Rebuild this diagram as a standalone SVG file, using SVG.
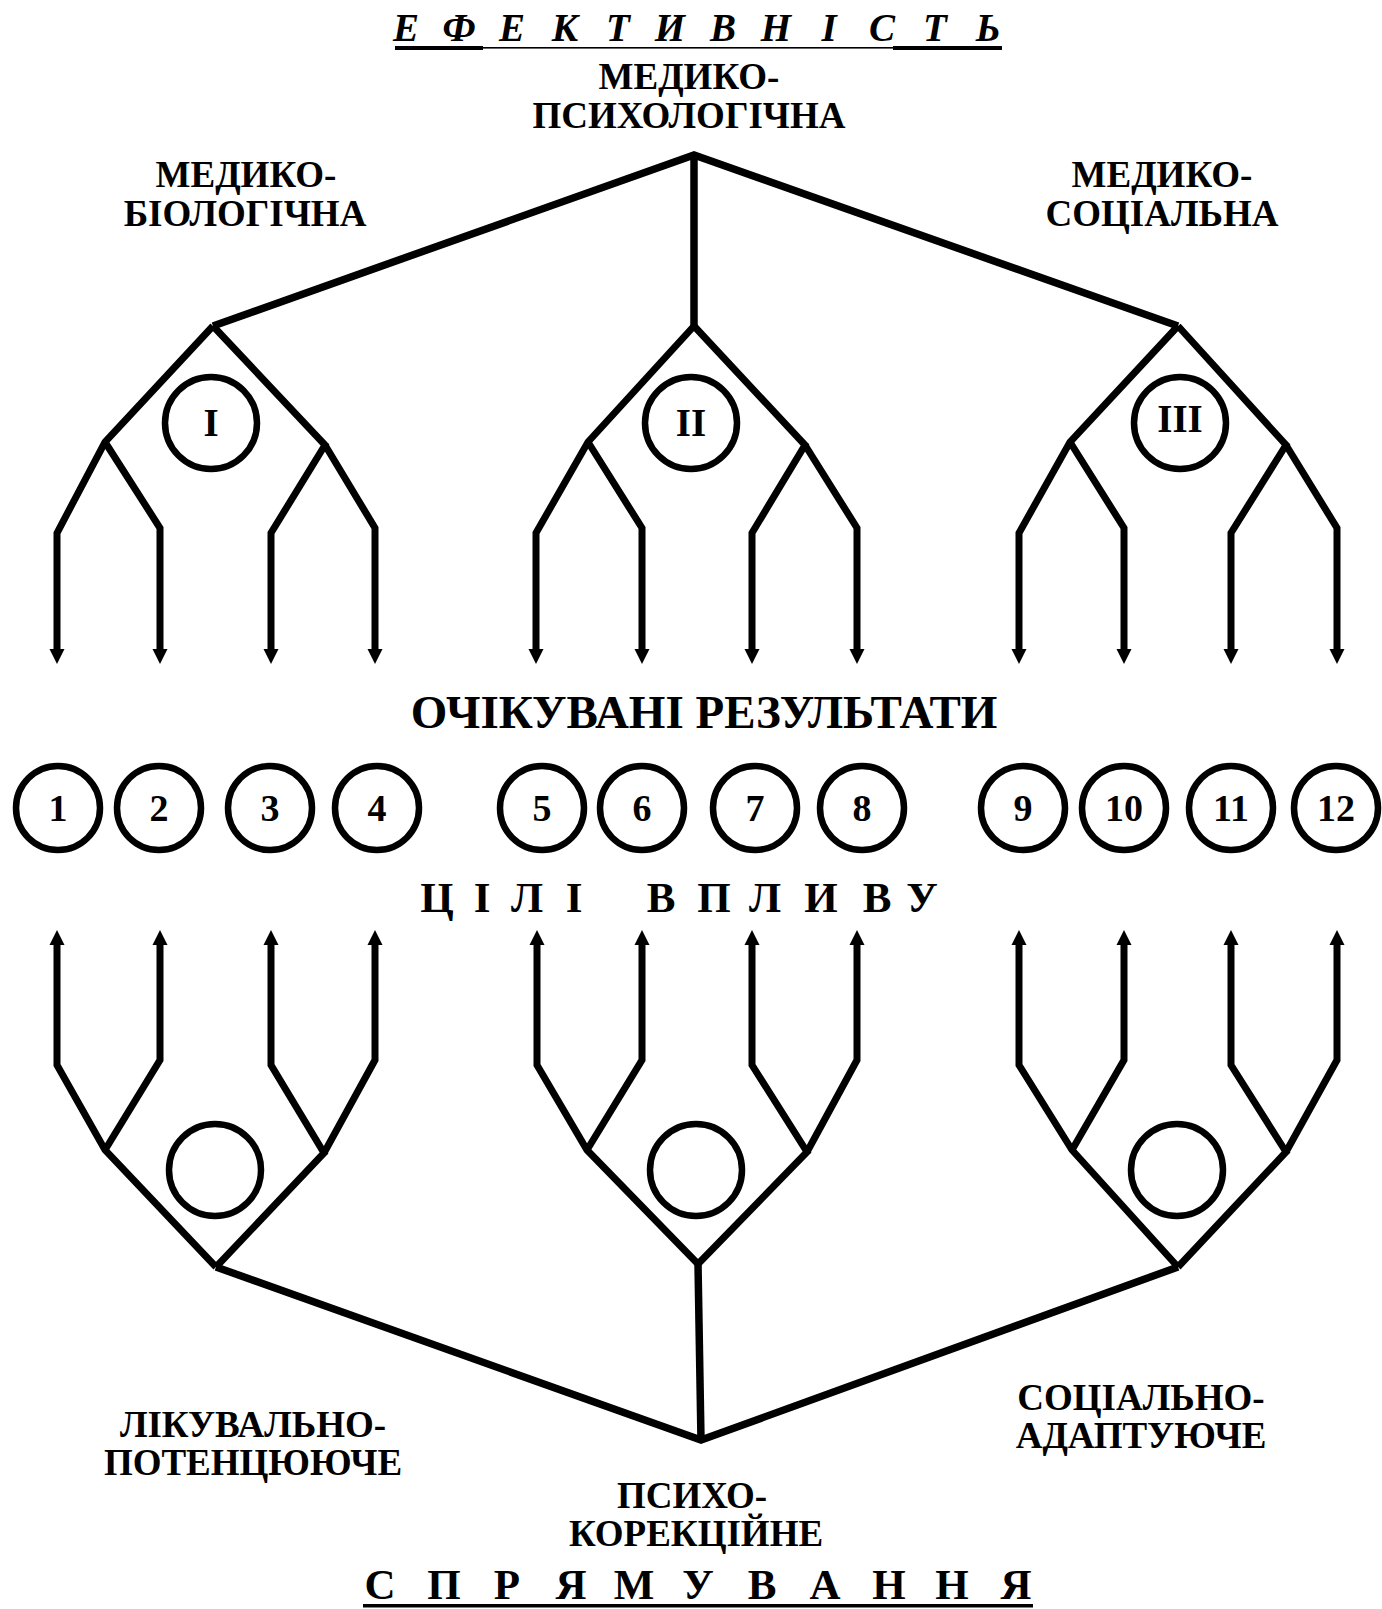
<svg xmlns="http://www.w3.org/2000/svg" width="1382" height="1609" viewBox="0 0 1382 1609">
<style>
  .ln { fill: none; stroke: #000; stroke-width: 7; stroke-linejoin: miter; }
  .main { fill: none; stroke: #000; stroke-width: 7.5; stroke-linejoin: miter; }
  .arr { marker-end: url(#ah); }
  .ring { fill: #fff; stroke: #000; stroke-width: 6.5; }
  .t { font-family: "Liberation Serif", "Times New Roman", serif; font-weight: bold; fill: #000; text-anchor: middle; }
  .lbl { font-size: 37px; }
  .num { font-size: 38px; }
  .rom { font-size: 39px; }
  .ttl { font-size: 39px; font-style: italic; }
  .sp { font-size: 43px; }
  .big { font-size: 47px; }
  .goal { font-size: 43px; }
</style>
<defs>
  <marker id="ah" markerUnits="userSpaceOnUse" markerWidth="16" markerHeight="16" viewBox="0 0 16 16" refX="0" refY="8" orient="auto">
    <path d="M0,0.5 L15,8 L0,15.5 z" fill="#000"/>
  </marker>
</defs>
<rect width="1382" height="1609" fill="#fff"/>

<g id="title-top">
  <text class="t ttl" y="41" x="406 459 512 565 618 670 723 776 829 882 935 988">ЕФЕКТИВНІСТЬ</text>
  <rect x="395" y="46" width="88" height="4"/>
  <rect x="483" y="47" width="410" height="1.6"/>
  <rect x="893" y="46" width="109" height="4"/>
</g>

<g id="connectors">
  <path class="main" d="M213,326 L694,155 L1178,326"/>
  <path class="main" d="M694,155 L694,326"/>
  <path class="main" d="M216,1267 L701,1440 L1178,1267"/>
  <path class="main" d="M698,1264 L701,1440"/>

  <!-- top subtree I -->
  <path class="ln arr" d="M213,326 L105,442 L57,533 L57,649"/>
  <path class="ln arr" d="M105,442 L160,528 L160,649"/>
  <path class="ln arr" d="M213,326 L325,445 L271,533 L271,649"/>
  <path class="ln arr" d="M325,445 L375,528 L375,649"/>
  <!-- top subtree II -->
  <path class="ln arr" d="M694,326 L588,442 L536,533 L536,649"/>
  <path class="ln arr" d="M588,442 L642,528 L642,649"/>
  <path class="ln arr" d="M694,326 L805,445 L752,533 L752,649"/>
  <path class="ln arr" d="M805,445 L857,528 L857,649"/>
  <!-- top subtree III -->
  <path class="ln arr" d="M1178,326 L1070,442 L1019,533 L1019,649"/>
  <path class="ln arr" d="M1070,442 L1124,528 L1124,649"/>
  <path class="ln arr" d="M1178,326 L1286,445 L1231,533 L1231,649"/>
  <path class="ln arr" d="M1286,445 L1337,528 L1337,649"/>

  <!-- bottom subtree 1 -->
  <path class="ln arr" d="M216,1267 L105,1150 L57,1065 L57,945"/>
  <path class="ln arr" d="M105,1150 L160,1060 L160,945"/>
  <path class="ln arr" d="M216,1267 L324,1153 L271,1065 L271,945"/>
  <path class="ln arr" d="M324,1153 L375,1060 L375,945"/>
  <!-- bottom subtree 2 -->
  <path class="ln arr" d="M698,1264 L587,1150 L537,1065 L537,945"/>
  <path class="ln arr" d="M587,1150 L642,1060 L642,945"/>
  <path class="ln arr" d="M698,1264 L807,1152 L752,1065 L752,945"/>
  <path class="ln arr" d="M807,1152 L857,1060 L857,945"/>
  <!-- bottom subtree 3 -->
  <path class="ln arr" d="M1178,1267 L1072,1150 L1019,1065 L1019,945"/>
  <path class="ln arr" d="M1072,1150 L1124,1060 L1124,945"/>
  <path class="ln arr" d="M1178,1267 L1286,1152 L1231,1065 L1231,945"/>
  <path class="ln arr" d="M1286,1152 L1337,1060 L1337,945"/>
</g>

<g id="label-med-psych">
  <text class="t lbl" x="689" y="89">МЕДИКО-</text>
  <text class="t lbl" x="689" y="128">ПСИХОЛОГІЧНА</text>
</g>
<g id="label-med-bio">
  <text class="t lbl" x="246" y="187">МЕДИКО-</text>
  <text class="t lbl" x="245" y="226">БІОЛОГІЧНА</text>
</g>
<g id="label-med-soc">
  <text class="t lbl" x="1162" y="187">МЕДИКО-</text>
  <text class="t lbl" x="1162" y="226">СОЦІАЛЬНА</text>
</g>

<g id="node-I"><circle class="ring" cx="211" cy="423" r="46"/><text class="t rom" x="211" y="436">I</text></g>
<g id="node-II"><circle class="ring" cx="691" cy="423" r="46"/><text class="t rom" x="691" y="436">II</text></g>
<g id="node-III"><circle class="ring" cx="1180" cy="423" r="46"/><text class="t rom" x="1180" y="432">III</text></g>

<g id="label-results">
  <text class="t big" x="704" y="728">ОЧІКУВАНІ РЕЗУЛЬТАТИ</text>
</g>

<g id="result-1"><circle class="ring" cx="58" cy="808" r="42"/><text class="t num" x="58" y="821">1</text></g>
<g id="result-2"><circle class="ring" cx="159" cy="808" r="42"/><text class="t num" x="159" y="821">2</text></g>
<g id="result-3"><circle class="ring" cx="270" cy="808" r="42"/><text class="t num" x="270" y="821">3</text></g>
<g id="result-4"><circle class="ring" cx="377" cy="808" r="42"/><text class="t num" x="377" y="821">4</text></g>
<g id="result-5"><circle class="ring" cx="542" cy="808" r="42"/><text class="t num" x="542" y="821">5</text></g>
<g id="result-6"><circle class="ring" cx="642" cy="808" r="42"/><text class="t num" x="642" y="821">6</text></g>
<g id="result-7"><circle class="ring" cx="755" cy="808" r="42"/><text class="t num" x="755" y="821">7</text></g>
<g id="result-8"><circle class="ring" cx="862" cy="808" r="42"/><text class="t num" x="862" y="821">8</text></g>
<g id="result-9"><circle class="ring" cx="1023" cy="808" r="42"/><text class="t num" x="1023" y="821">9</text></g>
<g id="result-10"><circle class="ring" cx="1124" cy="808" r="42"/><text class="t num" x="1124" y="821">10</text></g>
<g id="result-11"><circle class="ring" cx="1231" cy="808" r="42"/><text class="t num" x="1231" y="821">11</text></g>
<g id="result-12"><circle class="ring" cx="1336" cy="808" r="42"/><text class="t num" x="1336" y="821">12</text></g>

<g id="label-goals">
  <text class="t goal" y="912" x="437 482 527 574 661 714 765 821 877 922">ЦІЛІВПЛИВУ</text>
</g>

<g id="node-b1"><circle class="ring" cx="215" cy="1170" r="46"/></g>
<g id="node-b2"><circle class="ring" cx="696" cy="1170" r="46"/></g>
<g id="node-b3"><circle class="ring" cx="1177" cy="1170" r="46"/></g>

<g id="label-likuv">
  <text class="t lbl" x="253" y="1437">ЛІКУВАЛЬНО-</text>
  <text class="t lbl" x="253" y="1475">ПОТЕНЦЮЮЧЕ</text>
</g>
<g id="label-psycho">
  <text class="t lbl" x="692" y="1508">ПСИХО-</text>
  <text class="t lbl" x="696" y="1546">КОРЕКЦІЙНЕ</text>
</g>
<g id="label-social">
  <text class="t lbl" x="1141" y="1410">СОЦІАЛЬНО-</text>
  <text class="t lbl" x="1141" y="1448">АДАПТУЮЧЕ</text>
</g>

<g id="title-bottom">
  <text class="t sp" y="1599" x="380 444 507 571 634 698 762 825 889 952 1016">СПРЯМУВАННЯ</text>
  <rect x="363" y="1604" width="670" height="3.5"/>
</g>
</svg>
